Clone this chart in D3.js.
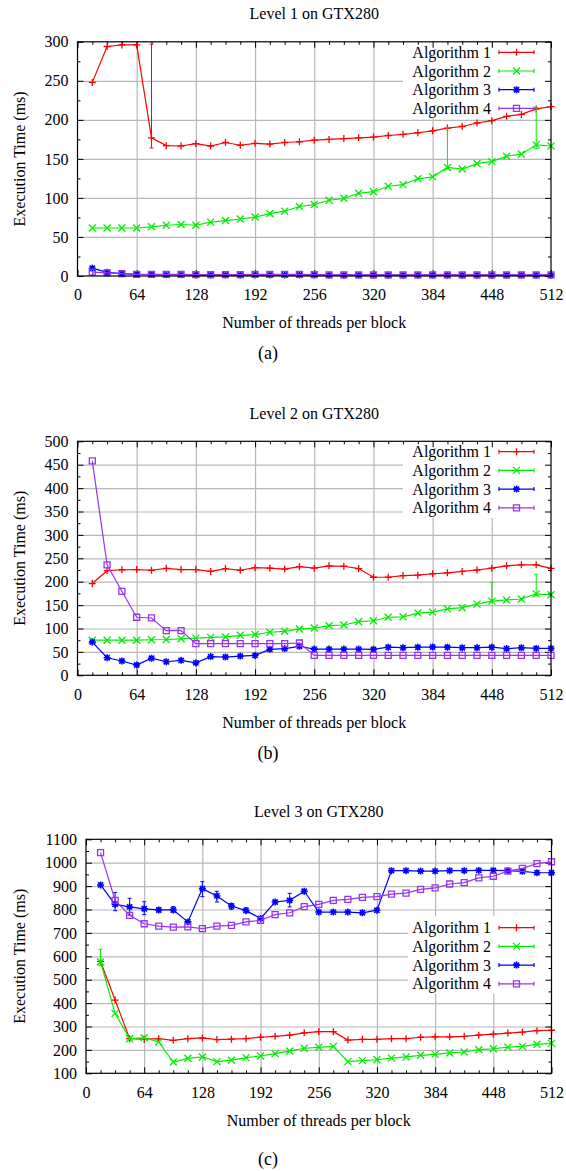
<!DOCTYPE html>
<html>
<head>
<meta charset="utf-8">
<script src="https://cdn.jsdelivr.net/npm/d3@7"></script>
<style>
  body { margin: 0; background: #fff; }
  svg { display: block; background: #fff; }
  .grid line { stroke: #b8b8b8; stroke-width: 1.2; }
  .grid .domain { display: none; }
  .axis .domain { display: none; }
  .axis line { stroke: #000; stroke-width: 1; }
</style>
</head>
<body>
<svg width="566" height="1171"></svg>
<script>
// threads per block (x values, same for every panel)
const threads = [16, 32, 48, 64, 80, 96, 112, 128, 144, 160, 176, 192, 208, 224, 240, 256,
                 272, 288, 304, 320, 336, 352, 368, 384, 400, 416, 432, 448, 464, 480, 496, 512];
const xTicks = [0, 64, 128, 192, 256, 320, 384, 448, 512];
const algNames = ['Algorithm 1', 'Algorithm 2', 'Algorithm 3', 'Algorithm 4'];

// Level 1 (ms)
const l1a1 = [248, 294, 296, 296, 177, 167, 166.5, 169.5, 166.5, 171, 167.5, 170, 169, 171, 172, 174,
              175, 176, 177, 178, 180, 181.5, 183.5, 186, 189.5, 191.5, 196, 199, 204.5, 207, 214, 217];
const l1a2 = [61.5, 61.5, 61.5, 61.5, 63, 65, 66, 65, 69, 71, 73, 75.5, 80, 83, 89, 91.5,
              97, 99.5, 106, 108, 115, 117, 124.5, 127, 139, 137, 144, 146.5, 153.5, 156, 168, 166.5];
const l1a3 = [10, 4.7, 3, 2, 1.8, 1.5, 1.5, 1.2, 1.2, 1.2, 1.2, 1.2, 1.2, 1.2, 1.2, 1.2,
              1, 1, 1, 1, 1, 1, 1, 1, 1, 1, 1, 1, 1, 1, 1, 1];
const l1a4 = [5, 4, 3, 2.2, 2.2, 2, 2, 1.8, 1.8, 1.8, 1.8, 2, 2, 2, 2.2, 1.8,
              1.5, 1.5, 1.5, 1.5, 1.5, 1.5, 1.5, 1.5, 1.5, 1.5, 1.5, 1.5, 1.5, 1.5, 1.5, 1.5];
// visible error bars: [threads, low, high] per algorithm
const l1err = [[[80, 164, 297]], [[400, 137, 190], [496, 163, 216]], [], []];

// Level 2 (ms)
const l2a1 = [196, 223.5, 225.5, 226, 224.5, 228.5, 226, 226, 222, 228, 224.5, 230, 229, 227, 232, 229,
              234, 233, 228, 209.5, 209.5, 213, 214, 217, 219, 222, 225, 229, 234, 236, 236, 228.5];
const l2a2 = [75, 75, 75, 75, 76, 76.5, 78, 79.5, 81, 82, 85.5, 87, 92, 94, 99, 101,
              106, 107.5, 114.5, 116.5, 124, 125, 133, 135, 142, 144.5, 152, 158.5, 161, 163, 174, 172];
const l2a3 = [71, 37.5, 30.5, 22, 36.5, 29, 32, 26.5, 40, 39, 41, 42.5, 55.5, 57, 62, 56,
              56, 56, 56, 55.5, 60, 59, 60, 60.5, 60, 59, 59, 60, 57, 59, 57.5, 57.5];
const l2a4 = [458, 236, 179.5, 124, 122.5, 95.5, 95.5, 67.5, 67.5, 67.5, 67.5, 67.5, 67.5, 67.5, 69, 42.5,
              42.5, 42.5, 42.5, 42.5, 42.5, 42.5, 42.5, 42.5, 42.5, 42.5, 42.5, 42.5, 42.5, 42.5, 42.5, 42.5];
const l2err = [[], [[448, 156, 199], [496, 170, 216]], [], []];

// Level 3 (ms)
const l3a1 = [578, 413, 248, 246, 248, 241, 248, 251, 244, 246, 248, 254, 258, 263, 273, 278,
              278, 242, 245, 245, 248, 248, 254, 256, 256, 258, 263, 267, 272, 276, 282, 284];
const l3a2 = [576, 356, 248, 252, 234, 148, 164, 170, 150, 156, 167, 174, 184, 195, 207, 211,
              215, 150, 154, 158, 165, 170, 177, 181, 187, 191, 201, 205, 212, 215, 224, 228];
const l3a3 = [905, 822, 811, 803, 798, 798, 747, 889, 858, 815, 795, 762, 832, 839, 878, 789,
              789, 789, 786, 797, 966, 966, 964, 964, 966, 966, 967, 967, 966, 963, 957, 957];
const l3a4 = [1043, 839, 775, 739, 729, 725, 726, 718, 729, 732, 747, 754, 778, 786, 812, 822,
              839, 843, 852, 855, 866, 870, 886, 892, 909, 915, 935, 942, 964, 976, 996, 1004];
const l3err = [[], [[16, 560, 630]],
               [[32, 795, 873], [48, 776, 848], [64, 778, 833], [80, 790, 807], [96, 789, 812],
                [128, 855, 919], [144, 832, 878], [160, 801, 825], [176, 789, 807], [224, 811, 869]], []];

const colors = ['#ff0000', '#00ee00', '#0000ff', '#9933ee'];
const shapes = ['plus', 'cross', 'star', 'square'];
const serif = '"Liberation Serif", "DejaVu Serif", "Times New Roman", Times, serif';

const panels = [
    { title: 'Level 1 on GTX280', caption: '(a)', series: [l1a1, l1a2, l1a3, l1a4], errs: l1err,
      yMin: 0, yMax: 300, yStep: 50, yMinor: 25,
      top: 41.8, bottom: 276, left: 77.5, right: 551, keyY: 52.3, keyLeft: 403, captionY: 353 },
    { title: 'Level 2 on GTX280', caption: '(b)', series: [l2a1, l2a2, l2a3, l2a4], errs: l2err,
      yMin: 0, yMax: 500, yStep: 50, yMinor: 25,
      top: 441.3, bottom: 675.3, left: 77.5, right: 551, keyY: 451.7, keyLeft: 403, captionY: 753 },
    { title: 'Level 3 on GTX280', caption: '(c)', series: [l3a1, l3a2, l3a3, l3a4], errs: l3err,
      yMin: 100, yMax: 1100, yStep: 100, yMinor: 50,
      top: 839.3, bottom: 1073.3, left: 86, right: 551.5, keyY: 927.7, keyLeft: 408, captionY: 1159 }
];

const svg = d3.select('svg');

function symbolPath(shape, r) {
    if (shape === 'plus') return `M${-r},0H${r}M0,${-r}V${r}`;
    if (shape === 'cross') return `M${-r},${-r}L${r},${r}M${-r},${r}L${r},${-r}`;
    if (shape === 'star') return `M${-r},0H${r}M0,${-r}V${r}M${-r * 0.75},${-r * 0.75}L${r * 0.75},${r * 0.75}M${-r * 0.75},${r * 0.75}L${r * 0.75},${-r * 0.75}`;
    return `M${-r},${-r}H${r}V${r}H${-r}Z`;
}

panels.forEach(p => drawPanel(p));

// same serif face everywhere
svg.selectAll('text').style('font-family', serif).style('fill', '#000');
svg.selectAll('.axis text, .label').style('font-size', '16px');

function drawPanel(p) {
    const w = p.right - p.left;
    const h = p.bottom - p.top;
    const x = d3.scaleLinear().domain([0, 512]).range([0, w]);
    const y = d3.scaleLinear().domain([p.yMin, p.yMax]).range([h, 0]);
    const yTicks = d3.range(p.yMin, p.yMax + 1, p.yStep);
    const yMinorTicks = d3.range(p.yMin, p.yMax + 1, p.yMinor).filter(v => !yTicks.includes(v));
    const xMinorTicks = d3.range(0, 513, 16).filter(v => !xTicks.includes(v));

    const g = svg.append('g').attr('transform', `translate(${p.left},${p.top})`);

    // grid
    g.append('g').attr('class', 'grid')
        .call(d3.axisBottom(x).tickValues(xTicks.slice(1, -1)).tickSize(h).tickFormat(''));
    g.append('g').attr('class', 'grid')
        .call(d3.axisLeft(y).tickValues(yTicks.slice(1, -1)).tickSize(-w).tickFormat(''));

    // key box (covers grid)
    const keyTop = Math.max(p.keyY - 11.5, p.top + 0.6);
    const keyBottom = p.keyY + 3 * 18.7 + 10;
    g.append('rect')
        .attr('x', p.keyLeft - p.left).attr('y', keyTop - p.top)
        .attr('width', p.right - p.keyLeft - 0.6)
        .attr('height', keyBottom - keyTop)
        .attr('fill', '#fff');

    // axes with inward ticks, mirrored
    g.append('g').attr('class', 'axis').attr('transform', `translate(0,${h})`)
        .call(d3.axisBottom(x).tickValues(xTicks).tickSize(-6).tickPadding(13).tickFormat(d3.format('d')));
    g.append('g').attr('class', 'axis').attr('transform', `translate(0,${h})`)
        .call(d3.axisBottom(x).tickValues(xMinorTicks).tickSize(-3).tickFormat(''));
    g.append('g').attr('class', 'axis')
        .call(d3.axisTop(x).tickValues(xTicks).tickSize(-6).tickFormat(''));
    g.append('g').attr('class', 'axis')
        .call(d3.axisTop(x).tickValues(xMinorTicks).tickSize(-3).tickFormat(''));
    g.append('g').attr('class', 'axis')
        .call(d3.axisLeft(y).tickValues(yTicks).tickSize(-6).tickPadding(9).tickFormat(d3.format('d')));
    g.append('g').attr('class', 'axis')
        .call(d3.axisLeft(y).tickValues(yMinorTicks).tickSize(-3).tickFormat(''));
    g.append('g').attr('class', 'axis').attr('transform', `translate(${w},0)`)
        .call(d3.axisRight(y).tickValues(yTicks).tickSize(-6).tickFormat(''));
    g.append('g').attr('class', 'axis').attr('transform', `translate(${w},0)`)
        .call(d3.axisRight(y).tickValues(yMinorTicks).tickSize(-3).tickFormat(''));

    // data
    const line = d3.line().x((d, i) => x(threads[i])).y(d => y(d));
    p.series.forEach((vals, k) => {
        const s = g.append('g').attr('stroke', colors[k]).attr('fill', 'none');
        s.append('path').attr('d', line(vals)).attr('stroke-width', 1.2);
        s.selectAll('.err').data(p.errs[k]).enter().append('path')
            .attr('d', e => `M${x(e[0])},${y(e[1])}V${y(e[2])}M${x(e[0]) - 2},${y(e[1])}h4M${x(e[0]) - 2},${y(e[2])}h4`)
            .attr('stroke-width', 1);
        s.selectAll('.pt').data(vals).enter().append('path')
            .attr('transform', (d, i) => `translate(${x(threads[i])},${y(d)})`)
            .attr('d', symbolPath(shapes[k], shapes[k] === 'square' ? 3 : 3.5))
            .attr('stroke-width', shapes[k] === 'star' ? 1.6 : 1.3);
    });

    // border
    g.append('rect').attr('width', w).attr('height', h)
        .attr('fill', 'none').attr('stroke', '#000').attr('stroke-width', 1.2);

    // key entries
    algNames.forEach((name, k) => {
        const ky = p.keyY + k * 18.7;
        svg.append('text').attr('class', 'label')
            .attr('x', 491).attr('y', ky).attr('dy', '0.35em')
            .attr('text-anchor', 'end').text(name);
        const kg = svg.append('g').attr('stroke', colors[k]).attr('fill', 'none');
        kg.append('path').attr('d', `M499,${ky}H534M499,${ky - 2}v4M534,${ky - 2}v4`).attr('stroke-width', 1.2);
        kg.append('path').attr('transform', `translate(516.5,${ky})`)
            .attr('d', symbolPath(shapes[k], shapes[k] === 'square' ? 3 : 3.5))
            .attr('stroke-width', shapes[k] === 'star' ? 1.6 : 1.3);
    });

    // titles and labels
    const cx = p.left + w / 2;
    svg.append('text').attr('class', 'label').attr('x', cx).attr('y', p.top - 28)
        .attr('dy', '0.35em').attr('text-anchor', 'middle').text(p.title);
    svg.append('text').attr('class', 'label').attr('x', cx).attr('y', p.bottom + 46.7)
        .attr('dy', '0.35em').attr('text-anchor', 'middle').text('Number of threads per block');
    svg.append('text').attr('class', 'label')
        .attr('transform', `translate(19,${p.top + h / 2}) rotate(-90)`)
        .attr('dy', '0.35em').attr('text-anchor', 'middle').text('Execution Time (ms)');
    svg.append('text').attr('x', 268).attr('y', p.captionY)
        .attr('dy', '0.35em').attr('text-anchor', 'middle')
        .style('font-size', '18px').text(p.caption);
}
</script>
</body>
</html>
